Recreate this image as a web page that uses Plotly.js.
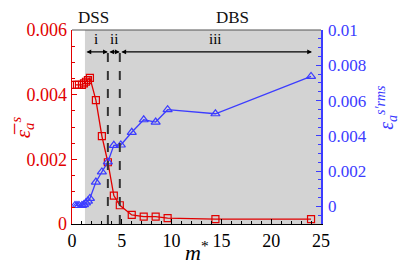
<!DOCTYPE html>
<html><head><meta charset="utf-8">
<script src="https://cdn.plot.ly/plotly-3.0.1.min.js"></script>
<style>html,body{margin:0;padding:0;background:#fff}
#c text{font-family:"Liberation Serif","Times New Roman",serif !important;}</style>
</head><body><div id="c" style="width:399px;height:266px"></div>
<script>
const mRed = [0.3,0.5,0.7,1.0,1.2,1.4,1.6,1.8,2.4,3.0,3.6,4.2,4.8,6.0,7.2,8.4,9.6,14.4,24.0];
const epsMean = [0.0043,0.0043,0.0043,0.0043,0.00435,0.0044,0.00445,0.00452,0.00383,0.00272,0.00191,0.00088,0.00058,0.00028,0.00023,0.00023,0.00018,0.00015,0.00015];
const mBlue = [0.3,0.5,0.7,1.0,1.2,1.4,1.6,1.8,2.4,3.0,3.6,4.2,4.9,6.0,7.2,8.4,9.6,14.4,24.0];
const epsRms = [0.00005,0.00005,0.00005,0.00005,0.0001,0.0002,0.0003,0.00045,0.00138,0.00195,0.00252,0.00346,0.00348,0.0042,0.00491,0.00478,0.00548,0.00525,0.00737];
const regimeBounds = [1.3,3.6,4.8,24.1];
const regimeLabels = ['i','ii','iii'];
const xTicks = [0,5,10,15,20,25];
const yLTicks = [0,0.002,0.004,0.006], yLText = ['0','0.002','0.004','0.006'];
const yRTicks = [0,0.002,0.004,0.006,0.008,0.01], yRText = ['0','0.002','0.004','0.006','0.008','0.01'];

const RED='rgb(225,0,0)', BLUE='rgb(60,60,255)', F='Liberation Serif, serif';
const arrowY = 0.887;
const shapes = [
 {type:'rect',xref:'x',yref:'paper',x0:regimeBounds[0],x1:25,y0:0,y1:1,fillcolor:'rgb(211,211,211)',line:{width:0},layer:'below'},
 {type:'line',xref:'x',yref:'paper',x0:regimeBounds[1],x1:regimeBounds[1],y0:0,y1:arrowY,line:{color:'#333',width:2,dash:'dash'}},
 {type:'line',xref:'x',yref:'paper',x0:regimeBounds[2],x1:regimeBounds[2],y0:0,y1:arrowY,line:{color:'#333',width:2,dash:'dash'}},
 {type:'line',xref:'paper',yref:'paper',x0:0,x1:1,y0:1,y1:1,line:{color:'#555',width:1.2}}
];
const ann = [];
for(let i=0;i<3;i++){
  ann.push({xref:'x',yref:'paper',axref:'x',ayref:'paper',x:regimeBounds[i+1],y:arrowY,ax:regimeBounds[i],ay:arrowY,text:'',showarrow:true,arrowhead:2,arrowside:'end+start',arrowsize:0.8,arrowwidth:1.2,arrowcolor:'#000',startarrowhead:2,startarrowsize:0.8});
  ann.push({xref:'x',yref:'paper',x:(regimeBounds[i]+regimeBounds[i+1])/2,y:arrowY+0.015,yanchor:'bottom',text:regimeLabels[i],showarrow:false,font:{family:F,size:15,color:'#000'}});
}
ann.push({xref:'paper',yref:'paper',x:0.015,y:1.0,yanchor:'bottom',yshift:1,text:'DSS',showarrow:false,font:{family:F,size:17,color:'#111'}});
ann.push({xref:'x',yref:'paper',x:16.1,y:1.0,yanchor:'bottom',yshift:1,text:'DBS',showarrow:false,font:{family:F,size:17,color:'#111'}});
ann.push({xref:'paper',yref:'paper',x:-0.2,y:0.5,xanchor:'center',textangle:-90,text:'<i>ε̅</i><sub><i>a</i></sub><sup><i>s</i></sup>',showarrow:false,font:{family:F,size:21,color:RED}});
ann.push({xref:'paper',yref:'paper',x:1.262,y:0.6,xanchor:'center',textangle:-90,text:'<i>ε</i><sub><i>a</i></sub><sup><i>s′rms</i></sup>',showarrow:false,font:{family:F,size:20,color:BLUE}});
ann.push({xref:'paper',yref:'paper',x:0.5,y:0,yanchor:'top',yshift:-11,text:'<i>m</i><sup>*</sup>',showarrow:false,font:{family:F,size:22,color:'#000'}});

const data = [
 {x:mRed,y:epsMean,type:'scatter',mode:'lines+markers',line:{color:RED,width:1.3},marker:{symbol:'square-open',size:7,color:RED,line:{width:1.2}},yaxis:'y'},
 {x:mBlue,y:epsRms,type:'scatter',mode:'lines+markers',line:{color:BLUE,width:1.3},marker:{symbol:'triangle-up-open',size:8,color:BLUE,line:{width:1.2}},yaxis:'y2'}
];
const layout = {
 width:399,height:266,margin:{l:72,r:78,t:30,b:42},showlegend:false,
 paper_bgcolor:'#fff',plot_bgcolor:'#fff',
 font:{family:F,size:17},
 xaxis:{range:[0,25],tickvals:xTicks,ticks:'inside',ticklen:5,tickcolor:'#000',showline:true,linecolor:'#000',linewidth:1.2,showgrid:false,zeroline:false,
   minor:{dtick:1,ticks:'inside',ticklen:3,tickcolor:'#000',showgrid:false},tickfont:{family:F,size:18,color:'#000'}},
 yaxis:{range:[0,0.006],tickvals:yLTicks,ticktext:yLText,ticks:'inside',ticklen:5,tickcolor:RED,showline:true,linecolor:RED,linewidth:1.5,showgrid:false,zeroline:false,
   minor:{dtick:0.0005,ticks:'inside',ticklen:3,tickcolor:RED,showgrid:false},tickfont:{family:F,size:18,color:RED}},
 yaxis2:{range:[-0.001,0.01],overlaying:'y',side:'right',tickvals:yRTicks,ticktext:yRText,ticks:'inside',ticklen:5,tickcolor:BLUE,showline:true,linecolor:BLUE,linewidth:1.5,showgrid:false,zeroline:false,
   ticklabelstandoff:2,
   minor:{dtick:0.0005,ticks:'inside',ticklen:3,tickcolor:BLUE,showgrid:false},tickfont:{family:F,size:17,color:BLUE}},
 shapes:shapes,
 annotations:ann
};
Plotly.newPlot('c',data,layout,{staticPlot:true});
</script></body></html>
